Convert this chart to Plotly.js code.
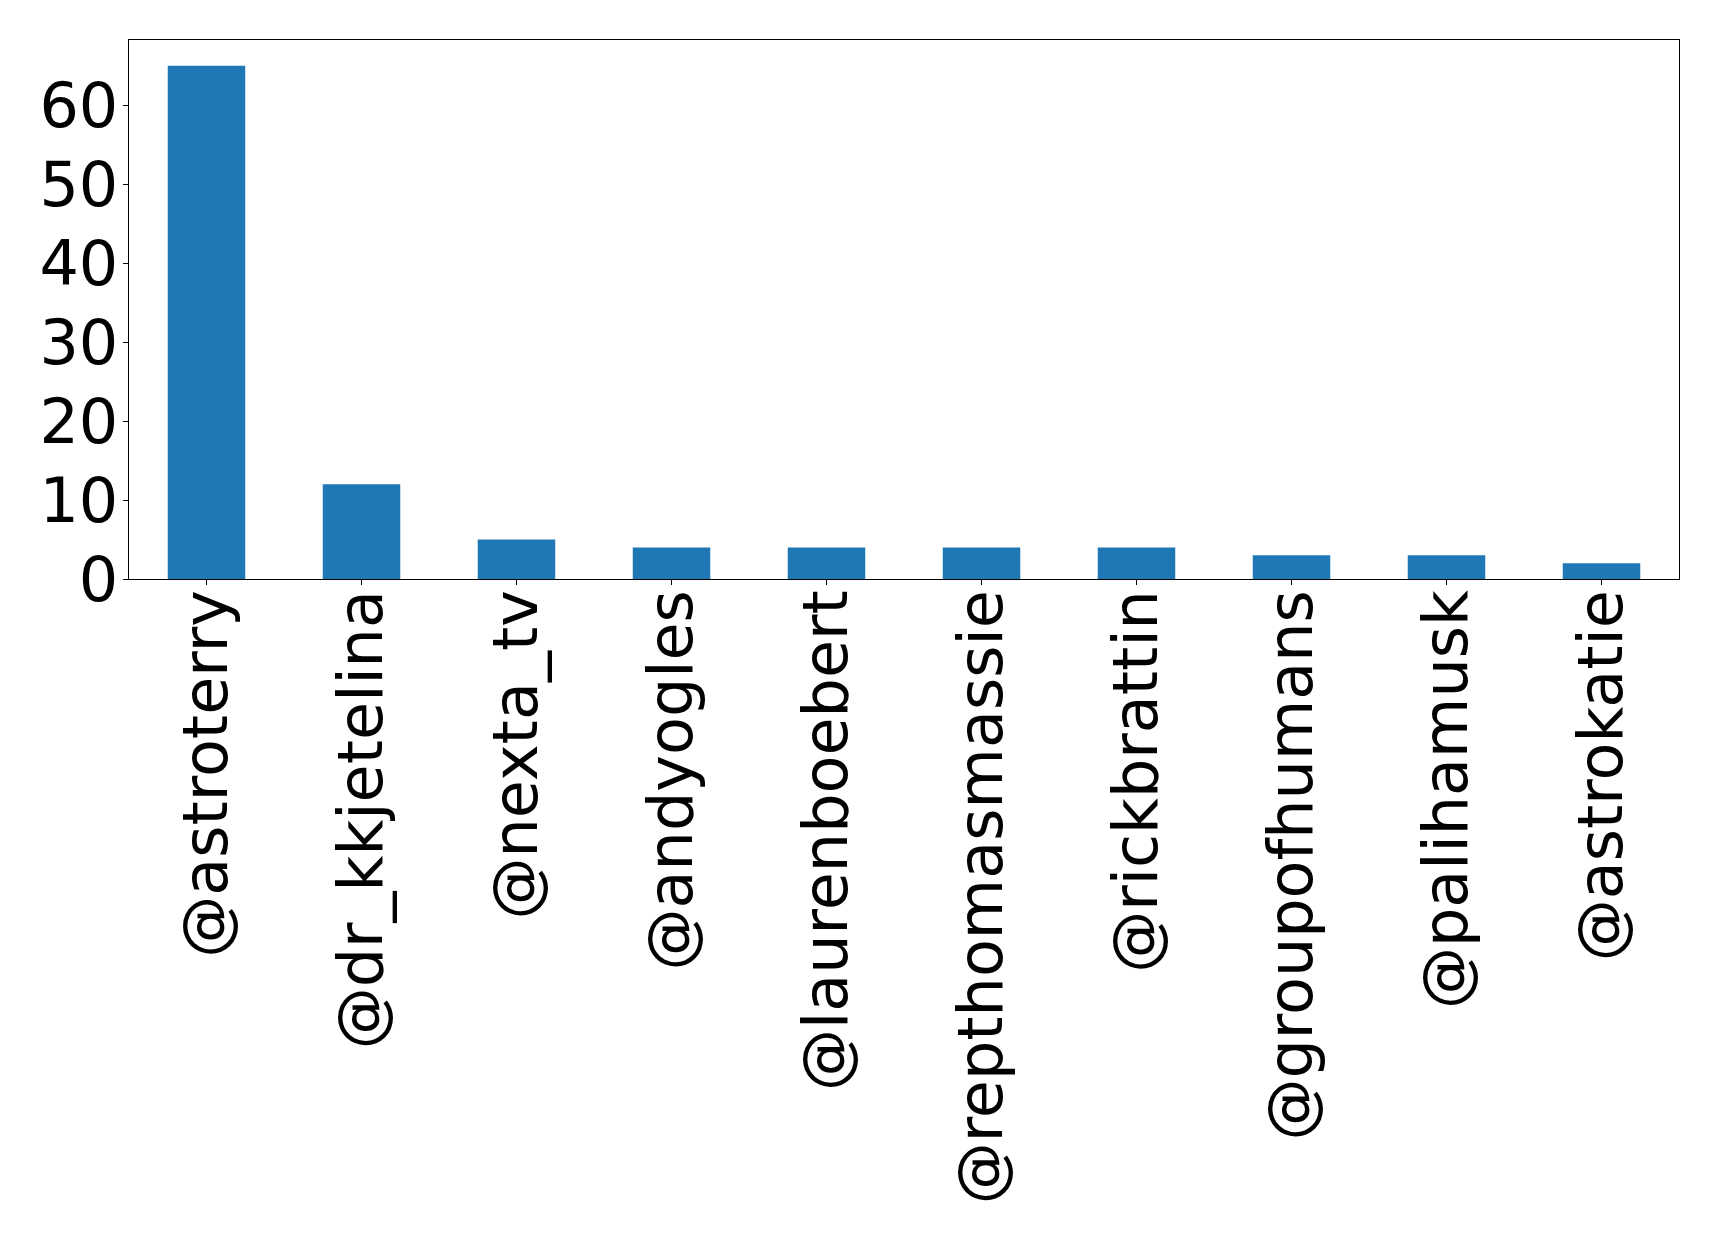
<!DOCTYPE html>
<html>
<head>
<meta charset="utf-8">
<script src="https://cdn.plot.ly/plotly-3.0.1.min.js"></script>
<style>
  html, body { margin: 0; padding: 0; background: #fff; }
  #chart { width: 1719px; height: 1247px; }
</style>
</head>
<body>
<div id="chart"></div>
<script>
// data
const accounts = [
    "@astroterry", "@dr_kkjetelina", "@nexta_tv", "@andyogles", "@laurenboebert",
    "@repthomasmassie", "@rickbrattin", "@groupofhumans", "@palihamusk", "@astrokatie"
];
const counts = [65, 12, 5, 4, 4, 4, 4, 3, 3, 2];
const yTicks = [0, 10, 20, 30, 40, 50, 60];

const FONT = "DejaVu Sans, Liberation Sans, sans-serif";

let trace = {
    x: accounts,
    y: counts,
    type: "bar",
    width: 0.5,
    marker: { color: "#1f77b4" },
    hoverinfo: "x+y"
};

let layout = {
    width: 1719,
    height: 1247,
    margin: { l: 129, r: 40, t: 40, b: 668 },
    paper_bgcolor: "#ffffff",
    plot_bgcolor: "#ffffff",
    showlegend: false,
    font: { family: FONT, size: 62, color: "#000000" },
    xaxis: {
        type: "category",
        range: [-0.5, 9.5],
        tickangle: -90,
        ticks: "outside",
        ticklen: 5,
        tickcolor: "#000",
        ticklabelstandoff: -20,
        showline: true,
        linecolor: "#000",
        linewidth: 1.3,
        mirror: true,
        showgrid: false,
        zeroline: false,
        tickfont: { family: FONT, size: 62, color: "#000" }
    },
    yaxis: {
        range: [0, 68.25],
        tickvals: yTicks,
        ticktext: yTicks.map(String),
        ticks: "outside",
        ticklen: 5,
        tickcolor: "#000",
        ticklabelstandoff: -8,
        showline: true,
        linecolor: "#000",
        linewidth: 1.3,
        mirror: true,
        showgrid: false,
        zeroline: false,
        tickfont: { family: FONT, size: 62, color: "#000" }
    }
};

Plotly.newPlot("chart", [trace], layout, { displayModeBar: false, staticPlot: true });
</script>
</body>
</html>
